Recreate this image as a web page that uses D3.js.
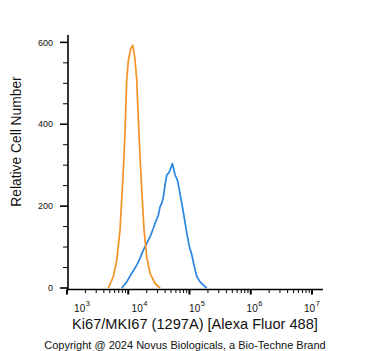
<!DOCTYPE html>
<html><head><meta charset="utf-8">
<script src="https://cdn.jsdelivr.net/npm/d3@7"></script>
<style>body{margin:0;background:#fff}svg{display:block}text{font-family:"Liberation Sans",Arial,sans-serif;fill:#111}</style>
</head><body><svg id="c" width="371" height="351"></svg>
<script>
// Data: fluorescence intensity vs. cell count
const isotypeX = [4732,5715,6486,7345,8318,8872,9441,10046,10990,11858,12912,13772,14622,15596,16634,18113,20045,22699,27416,33113];
const isotypeY = [0,28,68,142,288,386,508,557,585,593,557,508,410,321,239,142,76,36,11,0];
const ki67X = [7834,9441,11402,13772,15596,17660,20045,22699,25704,27416,31046,33113,35237,37497,39902,42560,45186,48195,52602,58210,63387,68391,74817,81658,90365,99540,109144,120226,131522,148936,168655,191867];
const ki67Y = [0,15,36,56,73,93,109,125,146,158,178,199,207,223,252,276,280,288,304,276,264,239,207,174,134,101,81,52,28,15,7,0];
const yTicks = [0,200,400,600];
const xDecades = [3,4,5,6,7];
const xTitle = "Ki67/MKI67 (1297A) [Alexa Fluor 488]";
const yTitle = "Relative Cell Number";
const footer = "Copyright @ 2024 Novus Biologicals, a Bio-Techne Brand";

const svg = d3.select("#c");
const x = d3.scaleLog().domain([1e3, Math.pow(10,7.18)]).range([67,323]);
const y = d3.scaleLinear().domain([0,618]).range([288,35]);

// y axis
const yAxisG = svg.append("g").attr("transform","translate(68,0)");
yAxisG.append("line").attr("y1",y(0)+1).attr("y2",y(618)).attr("stroke","#000").attr("stroke-width",1.6);
d3.range(0,601,50).forEach(v=>{
  const major = v%200===0;
  yAxisG.append("line").attr("x1",major?-8:-5).attr("x2",0).attr("y1",y(v)).attr("y2",y(v))
    .attr("stroke","#000").attr("stroke-width",major?1.6:1);
});
yAxisG.selectAll("text.yt").data(yTicks).join("text").attr("class","yt")
  .attr("x",-15).attr("y",d=>y(d)).attr("dy","0.35em").attr("text-anchor","end")
  .style("font-size","9px").text(d=>d);

// x axis
const xAxisY = 289.5;
const xg = svg.append("g");
xg.append("line").attr("x1",67).attr("x2",323).attr("y1",xAxisY).attr("y2",xAxisY).attr("stroke","#000").attr("stroke-width",1.6);
xDecades.forEach(p=>{
  xg.append("line").attr("x1",x(Math.pow(10,p))).attr("x2",x(Math.pow(10,p))).attr("y1",xAxisY).attr("y2",xAxisY+5)
    .attr("stroke","#000").attr("stroke-width",2);
  if(p<7) for(let m=2;m<=9;m++){
    const xv = x(m*Math.pow(10,p));
    xg.append("line").attr("x1",xv).attr("x2",xv).attr("y1",xAxisY).attr("y2",xAxisY+3.5).attr("stroke","#000").attr("stroke-width",1);
  }
});
// labels spread evenly as in the original
const labPos = d3.scaleLinear().domain([0,xDecades.length-1]).range([x(1e3)+15, x(1e7)]);
xDecades.forEach((p,i)=>{
  const t = xg.append("text").attr("x",labPos(i)).attr("y",312).attr("text-anchor","middle").style("font-size","10px");
  t.append("tspan").text("10");
  t.append("tspan").attr("dy",-6).attr("dx",0.5).style("font-size","7.5px").text(p);
});

// curves
const line = d3.line().x(d=>x(d[0])).y(d=>y(d[1]));
svg.append("path").datum(ki67X.map((v,i)=>[v,ki67Y[i]])).attr("d",line)
  .attr("fill","none").attr("stroke","#2b86e0").attr("stroke-width",1.7).attr("stroke-linejoin","round");
svg.append("path").datum(isotypeX.map((v,i)=>[v,isotypeY[i]])).attr("d",line)
  .attr("fill","none").attr("stroke","#f39326").attr("stroke-width",1.7).attr("stroke-linejoin","round");

// titles
svg.append("text").attr("x",195).attr("y",329).attr("text-anchor","middle").style("font-size","14.6px").text(xTitle);
svg.append("text").attr("transform","translate(20.5,141.5) rotate(-90)").attr("text-anchor","middle").style("font-size","13.8px").text(yTitle);
svg.append("text").attr("x",185).attr("y",349).attr("text-anchor","middle").style("font-size","11px").text(footer);
</script></body></html>
